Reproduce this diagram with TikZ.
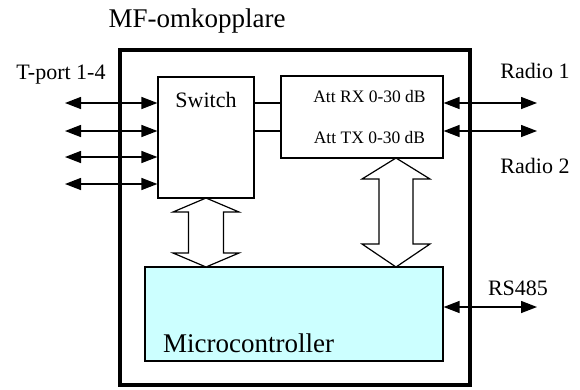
\documentclass[tikz,border=0pt]{standalone}
\usepackage{fontspec}
\setmainfont{Liberation Serif}
\usetikzlibrary{arrows.meta}
\definecolor{mccyan}{RGB}{204,255,255}
\begin{document}
\begin{tikzpicture}[x=1pt,y=-1pt,
  blk/.style={draw,line width=1.2pt,inner sep=0pt},
  conn/.style={line width=1.4pt},
  bidir/.style={line width=1.4pt,{Triangle[length=16pt,width=12pt]}-{Triangle[length=16pt,width=12pt]}},
  lbl/.style={anchor=base,inner sep=0pt,font=\fontsize{22}{24}\selectfont},
  attlbl/.style={anchor=base,inner sep=0pt,font=\fontsize{17.5}{20}\selectfont},
  fat/.style={draw,line width=1.2pt,fill=white,line join=miter}]
\useasboundingbox (0,0) rectangle (580,389);
% outer frame
\node[draw,line width=4pt,minimum width=350pt,minimum height=335pt,inner sep=0pt] (frame) at (295,217.5) {};
\node[anchor=base,inner sep=0pt,font=\fontsize{27}{30}\selectfont] (title) at (197,27) {MF-omkopplare};
% boxes
\node[blk,minimum width=96pt,minimum height=121pt] (sw) at (206,137.5) {};
\node[lbl] (swt) at (206,107) {Switch};
\node[blk,minimum width=162pt,minimum height=82pt] (att) at (362,117) {};
\node[attlbl] (rx) at (369.5,102) {Att RX 0-30 dB};
\node[attlbl] (tx) at (369.5,143) {Att TX 0-30 dB};
\node[blk,fill=mccyan,minimum width=298pt,minimum height=94pt] (mc) at (294,314) {};
\node[anchor=base west,inner sep=0pt,font=\fontsize{27}{30}\selectfont] (mct) at (163,352) {Microcontroller};
% switch - att links
\coordinate (l1) at (0,103);
\coordinate (l2) at (0,131);
\draw[conn] (sw.east |- l1) -- (att.west |- l1);
\draw[conn] (sw.east |- l2) -- (att.west |- l2);
% T-ports
\node[lbl] (tport) at (61,79) {T-port 1-4};
\coordinate (t1) at (65,103);
\coordinate (t2) at (65,131);
\coordinate (t3) at (65,157);
\coordinate (t4) at (65,184);
\foreach \t in {t1,t2,t3,t4}{\draw[bidir] (\t) -- (sw.west |- \t);}
% radios
\node[lbl] (r1) at (535,78) {Radio 1};
\node[lbl] (r2) at (535,173) {Radio 2};
\coordinate (re1) at (537,103);
\coordinate (re2) at (537,131);
\draw[bidir] (att.east |- re1) -- (re1);
\draw[bidir] (att.east |- re2) -- (re2);
% RS485
\node[lbl] (rs) at (518,295) {RS485};
\coordinate (rse) at (537,307);
\draw[bidir] (mc.east |- rse) -- (rse);
% block arrows
\draw[fat] (206,198) -- (239,212) -- (223.5,212) -- (223.5,253) -- (239,253) -- (206,267) -- (173,253) -- (188.5,253) -- (188.5,212) -- (173,212) -- cycle;
\draw[fat] (396,158) -- (430,179) -- (413,179) -- (413,244) -- (430,244) -- (396,267) -- (362,244) -- (379,244) -- (379,179) -- (362,179) -- cycle;
\end{tikzpicture}
\end{document}
